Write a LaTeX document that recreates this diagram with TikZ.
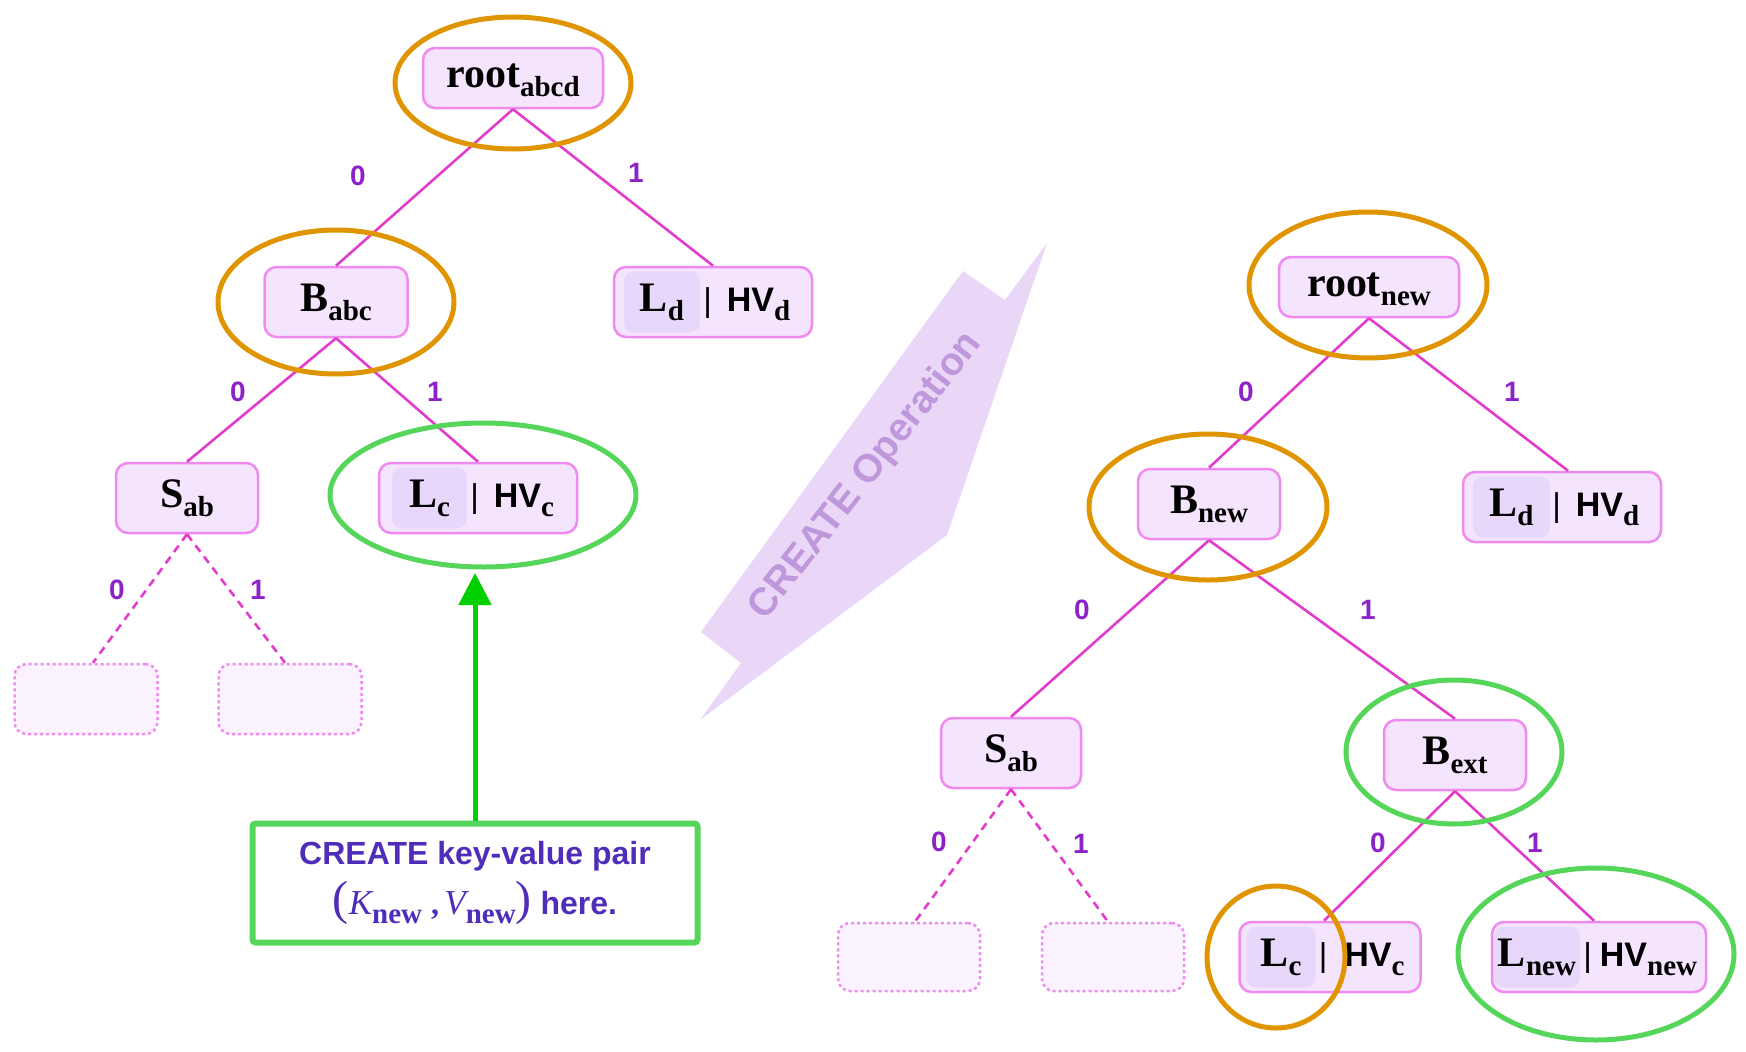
\documentclass[tikz,border=0pt]{standalone}
\usepackage{fontspec}
\setmainfont{Liberation Serif}
\setsansfont{Liberation Sans}
\usetikzlibrary{positioning,arrows.meta}

\definecolor{nodefill}{HTML}{F5E4FE}
\definecolor{nodeline}{HTML}{EE8AF0}
\definecolor{keyfill}{HTML}{E7D8FB}
\definecolor{holefill}{HTML}{FAF2FE}
\definecolor{edgecol}{HTML}{E23CCB}
\definecolor{bitcol}{HTML}{8C22C8}
\definecolor{markorange}{HTML}{E09400}
\definecolor{markgreen}{HTML}{55D65A}
\definecolor{growgreen}{HTML}{00D000}
\definecolor{notetext}{HTML}{4F2DBA}
\definecolor{opfill}{HTML}{EAD6F7}
\definecolor{optext}{HTML}{BF98DC}

\newcommand\low[1]{\raisebox{-9pt}{\fontsize{29}{29}\selectfont\rmfamily\bfseries #1}}
\newcommand\keybar{{\mdseries\fontsize{33}{33}\selectfont|}}

\tikzset{
  tnode/.style={draw=nodeline, fill=nodefill, line width=2.5pt, rounded corners=12pt,
    minimum height=70pt, inner sep=0pt, text height=28pt, text depth=10pt,
    font=\fontsize{42}{46}\selectfont\bfseries},
  key/.style={fill=keyfill, rounded corners=10pt, minimum height=61pt, inner sep=2pt,
    text height=28pt, text depth=10pt, font=\fontsize{42}{46}\selectfont\bfseries},
  val/.style={inner sep=0pt, text height=28pt, text depth=10pt,
    font=\sffamily\bfseries\fontsize{34}{36}\selectfont},
  hole/.style={draw=nodeline, fill=holefill, line width=2.5pt, dash pattern=on 3pt off 3pt,
    rounded corners=12pt, minimum width=143pt, minimum height=70pt},
  bit/.style={text=bitcol, font=\sffamily\bfseries\fontsize{28}{30}\selectfont},
  link/.style={draw=edgecol, line width=2.6pt},
  ghost/.style={link, dash pattern=on 8pt off 6pt},
  markO/.style={draw=markorange, line width=5pt},
  markG/.style={draw=markgreen, line width=5pt},
  note/.style={draw=markgreen, line width=6pt, rounded corners=3pt, minimum width=445pt,
    minimum height=119pt, align=center, text=notetext,
    font=\sffamily\bfseries\fontsize{32}{50}\selectfont},
  pointer/.style={draw=growgreen, line width=5pt, -{Triangle[length=32pt,width=32pt]}}
}

\begin{document}
\begin{tikzpicture}[x=1pt, y=1pt, on grid]
\useasboundingbox (0,0) rectangle (1746,-1052);

% operation arrow
\fill[opfill] (1047,-243) -- (947,-535) -- (700,-720) -- (741,-663) -- (701,-632)
  -- (963,-271) -- (1005,-300) -- cycle;
\node[text=optext, rotate=52, font=\sffamily\bfseries\fontsize{39}{40}\selectfont]
  (opLabel) at (866,-476) {CREATE Operation};

% left tree
\node[tnode, minimum width=180pt, minimum height=60pt] (rootL) at (513,-78) {root\low{abcd}};
\node[tnode, minimum width=143pt] (Babc) [below left=224pt and 177pt of rootL] {B\low{abc}};
\node[tnode, minimum width=198pt] (LdL) [below right=224pt and 200pt of rootL] {};
\node[key, minimum width=76pt, anchor=west] (LdLk) at ([xshift=11pt]LdL.west) {L\low{d}};
\node[val, anchor=west] (LdLv) at (LdLk.east) {\hspace{3pt}\keybar\hspace{15pt}HV\low{d}};
\node[tnode, minimum width=142pt] (SabL) [below left=196pt and 149pt of Babc] {S\low{ab}};
\node[tnode, minimum width=198pt] (LcL) [below right=196pt and 142pt of Babc] {};
\node[key, minimum width=75pt, anchor=west] (LcLk) at ([xshift=14pt]LcL.west) {L\low{c}};
\node[val, anchor=west] (LcLv) at (LcLk.east) {\hspace{3pt}\keybar\hspace{15pt}HV\low{c}};
\node[hole] (holeL0) [below left=201pt and 101pt of SabL] {};
\node[hole] (holeL1) [below right=201pt and 103pt of SabL] {};

\path[link] (rootL.south) edge (Babc.north) edge (LdL.north)
            (Babc.south) edge (SabL.north) edge (LcL.north);
\path[ghost] (SabL.south) edge ([xshift=7pt]holeL0.north) edge ([xshift=-5pt]holeL1.north);

\node[bit] (bL1) at (358,-176) {0};
\node[bit] (bL2) at (636,-173) {1};
\node[bit] (bL3) at (238,-392) {0};
\node[bit] (bL4) at (435,-392) {1};
\node[bit] (bL5) at (117,-590) {0};
\node[bit] (bL6) at (258,-590) {1};

\draw[markO] ([yshift=-5pt]rootL.center) ellipse [x radius=118pt, y radius=66pt];
\draw[markO] (Babc.center) ellipse [x radius=118pt, y radius=72pt];
\draw[markG] ([xshift=5pt,yshift=3pt]LcL.center) ellipse [x radius=153pt, y radius=72pt];

% new key-value pair
\node[note] (newBox) at (475,-883) {CREATE key-value pair\\
  {\rmfamily\mdseries\fontsize{48}{48}\selectfont(}{\rmfamily\mdseries\itshape\fontsize{35}{35}\selectfont K}\low{new}\ {\rmfamily ,}\,{\rmfamily\mdseries\itshape\fontsize{35}{35}\selectfont V}\low{new}{\rmfamily\mdseries\fontsize{48}{48}\selectfont)} here.};
\coordinate (tip) at (475,-573);
\draw[pointer] (newBox.north) -- (tip);

% right tree
\node[tnode, minimum width=180pt, minimum height=60pt] (rootR) at (1369,-287) {root\low{new}};
\node[tnode, minimum width=142pt] (Bnew) [below left=217pt and 160pt of rootR] {B\low{new}};
\node[tnode, minimum width=198pt] (LdR) [below right=220pt and 193pt of rootR] {};
\node[key, minimum width=77pt, anchor=west] (LdRk) at ([xshift=11pt]LdR.west) {L\low{d}};
\node[val, anchor=west] (LdRv) at (LdRk.east) {\hspace{2pt}\keybar\hspace{15pt}HV\low{d}};
\node[tnode, minimum width=140pt] (SabR) [below left=249pt and 198pt of Bnew] {S\low{ab}};
\node[tnode, minimum width=142pt] (Bext) [below right=251pt and 246pt of Bnew] {B\low{ext}};
\node[tnode, minimum width=181pt] (LcR) [below left=202pt and 125pt of Bext] {};
\node[key, minimum width=69pt, anchor=west] (LcRk) at ([xshift=8pt]LcR.west) {L\low{c}};
\node[val, anchor=west] (LcRv) at (LcRk.east) {\hspace{3pt}\keybar\hspace{17pt}HV\low{c}};
\node[tnode, minimum width=214pt] (Lnew) [below right=202pt and 144pt of Bext] {};
\node[key, minimum width=86pt, anchor=west] (Lnewk) at ([xshift=3pt]Lnew.west) {L\low{new}};
\node[val, anchor=west] (Lnewv) at (Lnewk.east) {\hspace{3pt}\keybar\hspace{8pt}HV\low{new}};
\node[hole, minimum width=142pt, minimum height=68pt] (holeR0) [below left=204pt and 102pt of SabR] {};
\node[hole, minimum width=142pt, minimum height=68pt] (holeR1) [below right=204pt and 102pt of SabR] {};

\path[link] (rootR.south) edge (Bnew.north) edge ([xshift=6pt]LdR.north)
            (Bnew.south) edge (SabR.north) edge (Bext.north)
            (Bext.south) edge ([xshift=-6pt]LcR.north) edge ([xshift=-5pt]Lnew.north);
\path[ghost] (SabR.south) edge ([xshift=6pt]holeR0.north) edge ([xshift=-5pt]holeR1.north);

\node[bit] (bR1) at (1246,-392) {0};
\node[bit] (bR2) at (1512,-392) {1};
\node[bit] (bR3) at (1082,-610) {0};
\node[bit] (bR4) at (1368,-610) {1};
\node[bit] (bR5) at (939,-842) {0};
\node[bit] (bR6) at (1081,-844) {1};
\node[bit] (bR7) at (1378,-843) {0};
\node[bit] (bR8) at (1535,-843) {1};

\draw[markO] ([xshift=-1pt,yshift=2pt]rootR.center) ellipse [x radius=119pt, y radius=73pt];
\draw[markO] ([xshift=-1pt,yshift=-3pt]Bnew.center) ellipse [x radius=119pt, y radius=73pt];
\draw[markG] ([xshift=-1pt,yshift=3pt]Bext.center) ellipse [x radius=108pt, y radius=72pt];
\draw[markO] ([xshift=-54pt]LcR.center) ellipse [x radius=69pt, y radius=71pt];
\draw[markG] ([xshift=-3pt,yshift=3pt]Lnew.center) ellipse [x radius=138pt, y radius=86pt];
\end{tikzpicture}
\end{document}
